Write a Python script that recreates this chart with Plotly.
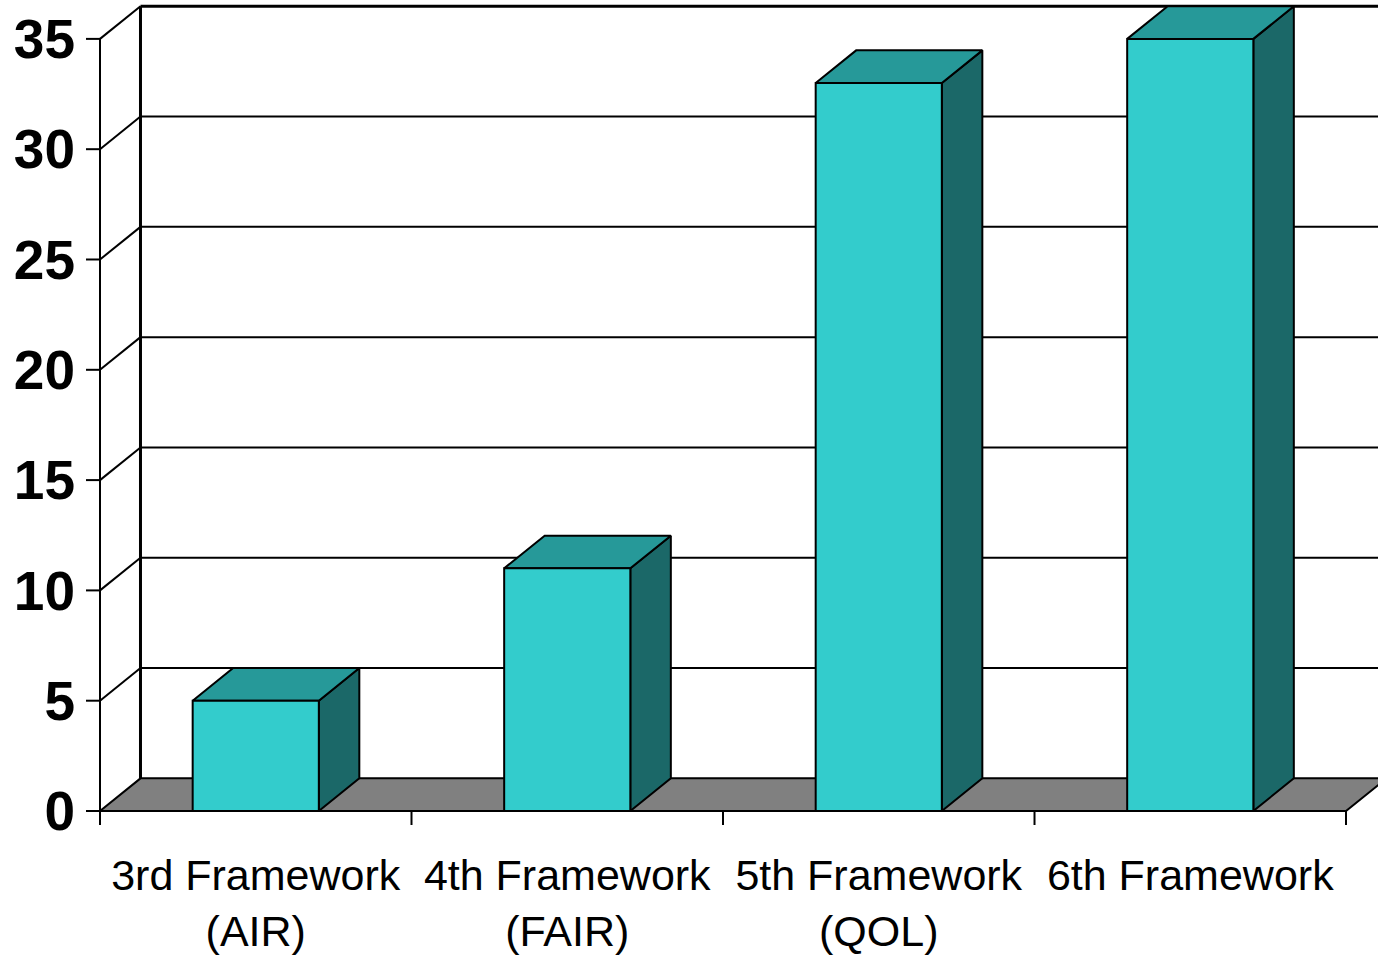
import plotly.graph_objects as go

# Framework programmes and their values
categories = ["3rd Framework<br>(AIR)", "4th Framework<br>(FAIR)", "5th Framework<br>(QOL)", "6th Framework"]
values = [5, 11, 33, 35]
y_ticks = [0, 5, 10, 15, 20, 25, 30, 35]

# 3D look: depth offset of the back wall in data units
DX = 0.13
DY = 1.48
BAR_W = 0.405
X0, X1 = -0.5, 3.5
Y_TOP = 35
X_RANGE = [-0.5642, 3.6027]
Y_RANGE = [-0.8613, 36.763]

FRONT = "#33CCCC"
TOP = "#269999"
SIDE = "#1B6868"
FLOOR = "#808080"

fig = go.Figure()


def line(xs, ys, width=2):
    fig.add_trace(go.Scatter(x=xs, y=ys, mode="lines",
                             line=dict(color="black", width=width),
                             hoverinfo="skip", showlegend=False))


def poly(xs, ys, color, width=2):
    fig.add_trace(go.Scatter(x=xs + [xs[0]], y=ys + [ys[0]], mode="lines",
                             fill="toself", fillcolor=color,
                             line=dict(color="black", width=width),
                             hoverinfo="skip", showlegend=False))


# back wall gridlines and left wall diagonals
for v in y_ticks[1:]:
    line([X0 + DX, X_RANGE[1] + 0.1], [v + DY, v + DY], 3 if v == Y_TOP else 2)
    line([X0, X0 + DX], [v, v + DY], 2)

# back wall left edge
line([X0 + DX, X0 + DX], [DY, Y_TOP + DY], 3)

# floor
poly([X0, X1, X1 + DX, X0 + DX], [0, 0, DY, DY], FLOOR)

# bars: side, top and front faces
for i, v in enumerate(values):
    l, r = i - BAR_W / 2, i + BAR_W / 2
    poly([r, r + DX, r + DX, r], [0, DY, v + DY, v], SIDE)
    poly([l, r, r + DX, l + DX], [v, v, v + DY, v + DY], TOP)
    poly([l, r, r, l], [0, 0, v, v], FRONT)

# front value axis with its ticks
line([X0, X0], [-0.635, Y_TOP], 2)
for v in y_ticks:
    line([X0 - 0.045, X0], [v, v], 2)

# category axis ticks
for k in range(len(categories) + 1):
    xk = X0 + k
    line([xk, xk], [0, -0.635], 2)

fig.update_layout(
    width=1378, height=955,
    margin=dict(l=80, r=0, t=0, b=125),
    paper_bgcolor="white", plot_bgcolor="white",
    xaxis=dict(range=X_RANGE, tickvals=[0, 1, 2, 3], ticktext=categories,
               showgrid=False, zeroline=False, showline=False, ticks="",
               ticklabelstandoff=16,
               tickfont=dict(family="Liberation Sans, Arial", size=43, color="black")),
    yaxis=dict(range=Y_RANGE, tickvals=y_ticks, ticktext=[str(t) for t in y_ticks],
               showgrid=False, zeroline=False, showline=False, ticks="",
               ticklabelstandoff=4,
               tickfont=dict(family="Liberation Sans, Arial", size=55, color="black",
                             weight="bold")),
)

fig.write_html("out.html")
